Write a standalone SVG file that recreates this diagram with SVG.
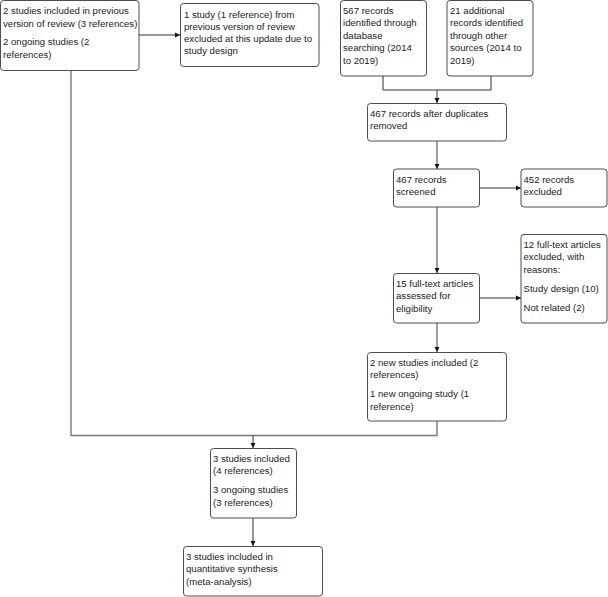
<svg xmlns="http://www.w3.org/2000/svg" width="608" height="597" viewBox="0 0 608 597">
<style>
.box{fill:#fff;stroke:#4d4d4d;stroke-width:1}
.t{font-family:"Liberation Sans",Arial,sans-serif;font-size:9.6px;fill:#222}
.c{fill:none;stroke:#333;stroke-width:1}
.g{fill:none;stroke:#777;stroke-width:1.4}
</style>
<defs>
<marker id="ah" markerWidth="6" markerHeight="6" refX="5" refY="3" orient="auto" markerUnits="userSpaceOnUse">
<path d="M0,0.5 L5,3 L0,5.5 Z" fill="#111"/>
</marker>
</defs>
<g id="connectors">
<path class="c" d="M139,35 H180" marker-end="url(#ah)"/>
<path class="c" d="M383,76 V90 H491 V76"/>
<path class="c" d="M437,90 V103" marker-end="url(#ah)"/>
<path class="g" d="M437,141 V169" marker-end="url(#ah)"/>
<path class="c" d="M479,188 H521" marker-end="url(#ah)"/>
<path class="g" d="M437,207 V273" marker-end="url(#ah)"/>
<path class="c" d="M479,298 H521" marker-end="url(#ah)"/>
<path class="g" d="M437,323 V352" marker-end="url(#ah)"/>
<path class="g" d="M437,421 V435.5 H71 V71"/>
<path class="c" d="M253,435.5 V448" marker-end="url(#ah)"/>
<path class="c" d="M253,518 V546" marker-end="url(#ah)"/>
</g>
<g id="n1"><rect class="box" x="0.5" y="0.5" width="138.5" height="70" rx="3"/>
<text class="t" x="3" y="14">2 studies included in previous</text>
<text class="t" x="3" y="26.5">version of review (3 references)</text>
<text class="t" x="3" y="45">2 ongoing studies (2</text>
<text class="t" x="3" y="57.5">references)</text></g>
<g id="n2"><rect class="box" x="180.5" y="3.5" width="138.5" height="63" rx="3"/>
<text class="t" x="184" y="18">1 study (1 reference) from</text>
<text class="t" x="184" y="30">previous version of review</text>
<text class="t" x="184" y="42">excluded at this update due to</text>
<text class="t" x="184" y="54">study design</text></g>
<g id="n3"><rect class="box" x="340.5" y="0.5" width="86" height="75.5" rx="3"/>
<text class="t" x="343" y="13.5">567 records</text>
<text class="t" x="343" y="26">identified through</text>
<text class="t" x="343" y="38.5">database</text>
<text class="t" x="343" y="51">searching (2014</text>
<text class="t" x="343" y="63.5">to 2019)</text></g>
<g id="n4"><rect class="box" x="447" y="0.5" width="86" height="75.5" rx="3"/>
<text class="t" x="450" y="13.5">21 additional</text>
<text class="t" x="450" y="26">records identified</text>
<text class="t" x="450" y="38.5">through other</text>
<text class="t" x="450" y="51">sources (2014 to</text>
<text class="t" x="450" y="63.5">2019)</text></g>
<g id="n5"><rect class="box" x="367.5" y="103.5" width="139" height="37.5" rx="3"/>
<text class="t" x="370" y="116.5">467 records after duplicates</text>
<text class="t" x="370" y="129">removed</text></g>
<g id="n6"><rect class="box" x="393.5" y="169" width="86" height="38" rx="3"/>
<text class="t" x="396" y="182.5">467 records</text>
<text class="t" x="396" y="195">screened</text></g>
<g id="n7"><rect class="box" x="521" y="169" width="86" height="38" rx="3"/>
<text class="t" x="523.5" y="182.5">452 records</text>
<text class="t" x="523.5" y="195">excluded</text></g>
<g id="n8"><rect class="box" x="393.5" y="273.5" width="86" height="49.5" rx="3"/>
<text class="t" x="396" y="286.5">15 full-text articles</text>
<text class="t" x="396" y="299">assessed for</text>
<text class="t" x="396" y="311.5">eligibility</text></g>
<g id="n9"><rect class="box" x="521" y="234.5" width="86" height="88.5" rx="3"/>
<text class="t" x="523.5" y="247.5">12 full-text articles</text>
<text class="t" x="523.5" y="260">excluded, with</text>
<text class="t" x="523.5" y="272.5">reasons:</text>
<text class="t" x="523.5" y="292">Study design (10)</text>
<text class="t" x="523.5" y="311">Not related (2)</text></g>
<g id="n10"><rect class="box" x="367.5" y="352.5" width="139" height="68.5" rx="3"/>
<text class="t" x="370" y="365.5">2 new studies included (2</text>
<text class="t" x="370" y="378">references)</text>
<text class="t" x="370" y="397">1 new ongoing study (1</text>
<text class="t" x="370" y="409.5">reference)</text></g>
<g id="n11"><rect class="box" x="210.5" y="448.5" width="86" height="69.5" rx="3"/>
<text class="t" x="213" y="461.5">3 studies included</text>
<text class="t" x="213" y="474">(4 references)</text>
<text class="t" x="213" y="493">3 ongoing studies</text>
<text class="t" x="213" y="505.5">(3 references)</text></g>
<g id="n12"><rect class="box" x="183.5" y="546.5" width="139" height="49.5" rx="3"/>
<text class="t" x="186" y="559.5">3 studies included in</text>
<text class="t" x="186" y="572">quantitative synthesis</text>
<text class="t" x="186" y="584.5">(meta-analysis)</text></g>
</svg>
